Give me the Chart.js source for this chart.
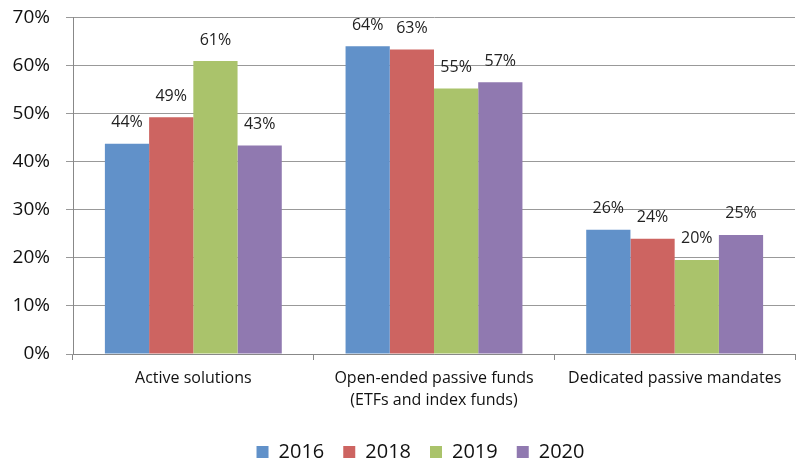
<!DOCTYPE html>
<html>
<head>
<meta charset="utf-8">
<script src="https://cdn.jsdelivr.net/npm/chart.js@4"></script>
<style>
  html, body { margin: 0; padding: 0; background: #fff; }
  #wrap { width: 796px; height: 459px; }
</style>
</head>
<body>
<div id="wrap"><canvas id="chart" width="796" height="459"></canvas></div>
<script>
// Chart values (percent)
const categories = ['Active solutions', ['Open-ended passive funds', '(ETFs and index funds)'], 'Dedicated passive mandates'];
const years = ['2016', '2018', '2019', '2020'];
const values2016 = [43.8, 64.1, 25.9];
const values2018 = [49.3, 63.4, 24.0];
const values2019 = [61.0, 55.3, 19.6];
const values2020 = [43.4, 56.6, 24.8];
const colors = ['#6191C9', '#CD6461', '#AAC36B', '#9079B0'];
const yTicks = [0, 10, 20, 30, 40, 50, 60, 70];

const FONT = '"Open Sans", sans-serif';
const series = [values2016, values2018, values2019, values2020];

// draw rounded value labels above each bar
const barLabels = {
    id: 'barLabels',
    afterDatasetsDraw(chart) {
        const ctx = chart.ctx;
        ctx.save();
        ctx.font = '16px ' + FONT;
        ctx.fillStyle = '#222';
        ctx.textAlign = 'center';
        ctx.textBaseline = 'middle';
        chart.data.datasets.forEach((ds, i) => {
            chart.getDatasetMeta(i).data.forEach((bar, j) => {
                ctx.fillText(Math.round(ds.data[j]) + '%', bar.x, bar.y - 21);
            });
        });
        ctx.restore();
    }
};

// legend in the original sits a little right of the canvas centre
const legendShift = {
    id: 'legendShift',
    afterLayout(chart) {
        chart.legend.left += 23;
        chart.legend.right += 23;
    }
};

new Chart(document.getElementById('chart').getContext('2d'), {
    type: 'bar',
    data: {
        labels: categories,
        datasets: series.map((vals, i) => ({
            label: years[i],
            data: vals,
            backgroundColor: colors[i],
            borderWidth: 0,
            categoryPercentage: 0.735,
            barPercentage: 1.0
        }))
    },
    options: {
        responsive: false,
        animation: false,
        layout: { padding: { top: 5, right: 1, left: 0, bottom: -13 } },
        plugins: {
            legend: {
                position: 'bottom',
                labels: {
                    font: { family: FONT, size: 20 },
                    color: '#111',
                    boxWidth: 12,
                    boxHeight: 12,
                    padding: 19
                }
            },
            tooltip: { enabled: false }
        },
        scales: {
            x: {
                grid: { drawOnChartArea: false, drawTicks: true, tickLength: 6, color: '#888', offset: true },
                border: { color: '#888', width: 1 },
                ticks: { font: { family: FONT, size: 16, lineHeight: 1.35 }, color: '#111', padding: 8 },
                afterFit(scale) { scale.height = 69; }
            },
            y: {
                min: 0,
                max: 70,
                afterBuildTicks(scale) { scale.ticks = yTicks.map(v => ({ value: v })); },
                grid: { color: '#999', lineWidth: 1, tickLength: 7 },
                border: { color: '#888', width: 1 },
                ticks: {
                    font: { family: FONT, size: 19, lineHeight: 0.2 },
                    color: '#111',
                    padding: 16,
                    callback: v => v + '%'
                },
                afterFit(scale) { scale.width = 73; }
            }
        }
    },
    plugins: [barLabels, legendShift]
});
</script>
</body>
</html>
